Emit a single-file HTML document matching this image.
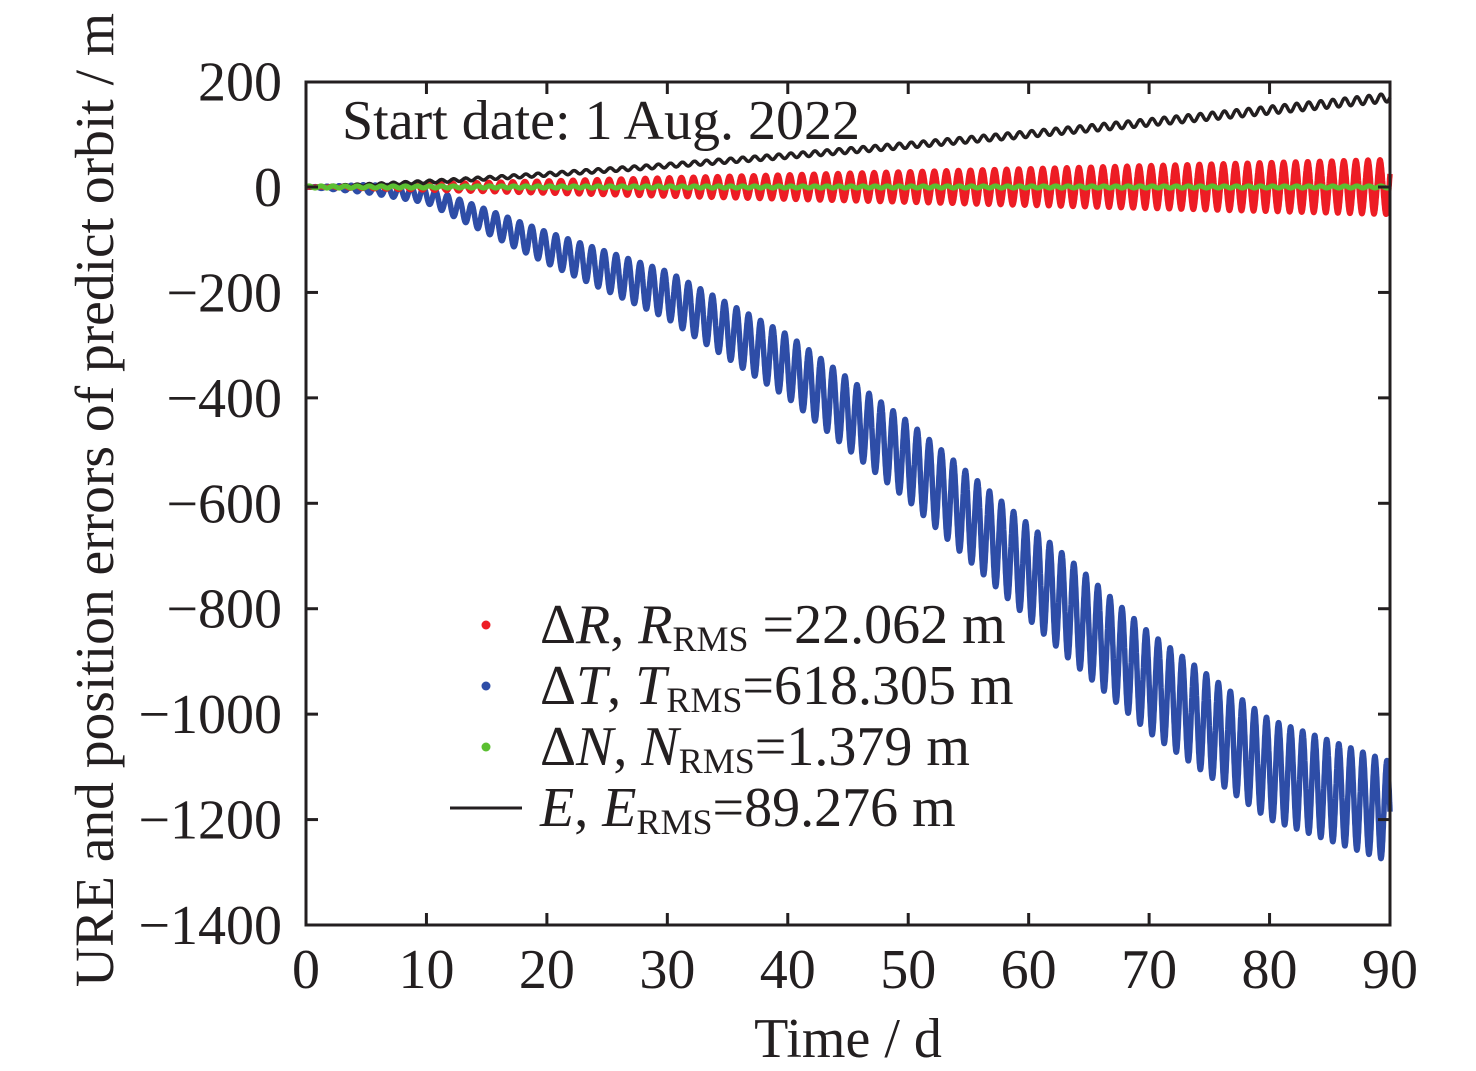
<!DOCTYPE html>
<html><head><meta charset="utf-8"><style>
html,body{margin:0;padding:0;background:#fff;}
svg{display:block;font-family:"Liberation Serif",serif;}
</style></head><body>
<svg id="s" width="1476" height="1071" viewBox="0 0 1476 1071" xmlns="http://www.w3.org/2000/svg">
<g id="series" fill="none" stroke-linejoin="round"></g>
<rect x="306" y="82" width="1084" height="843" fill="none" stroke="#231f20" stroke-width="3"/>
<g id="ticks" stroke="#231f20" stroke-width="3"></g>
<g font-size="56" fill="#231f20" id="labels"></g>
<text x="342" y="139" font-size="56" fill="#231f20">Start date: 1 Aug. 2022</text>
<text x="848" y="1057" font-size="56" text-anchor="middle" fill="#231f20">Time / d</text>
<text transform="translate(113,500) rotate(-90)" font-size="55.5" text-anchor="middle" fill="#231f20">URE and position errors of predict orbit / m</text>
<g font-size="56" fill="#231f20">
<circle cx="486" cy="625" r="4.5" fill="#ed1c24"/>
<circle cx="486" cy="686" r="4.5" fill="#2e4da7"/>
<circle cx="486" cy="747" r="4.5" fill="#5bbf31"/>
<line x1="450" y1="808" x2="522" y2="808" stroke="#231f20" stroke-width="3"/>
<text x="540" y="643">Δ<tspan font-style="italic">R</tspan>, <tspan font-style="italic">R</tspan><tspan font-size="36" dy="8">RMS</tspan><tspan dy="-8"> =22.062 m</tspan></text>
<text x="540" y="704">Δ<tspan font-style="italic">T</tspan>, <tspan font-style="italic">T</tspan><tspan font-size="36" dy="8">RMS</tspan><tspan dy="-8">=618.305 m</tspan></text>
<text x="540" y="765">Δ<tspan font-style="italic">N</tspan>, <tspan font-style="italic">N</tspan><tspan font-size="36" dy="8">RMS</tspan><tspan dy="-8">=1.379 m</tspan></text>
<text x="540" y="826"><tspan font-style="italic">E</tspan>, <tspan font-style="italic">E</tspan><tspan font-size="36" dy="8">RMS</tspan><tspan dy="-8">=89.276 m</tspan></text>
</g>
</svg>
<script>
var X=function(t){return 306+t*1084/90;};
var Y=function(v){return 187-v*105.43/200;};
var ns="http://www.w3.org/2000/svg";
function el(p,n,a){var e=document.createElementNS(ns,n);for(var k in a)e.setAttribute(k,a[k]);p.appendChild(e);return e;}
var tk=document.getElementById('ticks'),lb=document.getElementById('labels');
for(var t=0;t<=90;t+=10){var x=X(t);
 if(t>0&&t<90){el(tk,'line',{x1:x,y1:925,x2:x,y2:913});el(tk,'line',{x1:x,y1:82,x2:x,y2:94});}
 var tx=el(lb,'text',{x:x,y:988,'text-anchor':'middle'});tx.textContent=t;}
for(var v=200;v>=-1400;v-=200){var y=Y(v);
 if(v<200&&v>-1400){el(tk,'line',{x1:306,y1:y,x2:318,y2:y});el(tk,'line',{x1:1390,y1:y,x2:1378,y2:y});}
 var tx=el(lb,'text',{x:282,y:y+19,'text-anchor':'end'});tx.textContent=(v<0?'\u2212'+(-v):v);}
function interp(pts,t){for(var i=0;i<pts.length-1;i++){if(t<=pts[i+1][0]){var a=pts[i],b=pts[i+1],f=(t-a[0])/(b[0]-a[0]);return a[1]+f*(b[1]-a[1]);}}return pts[pts.length-1][1];}
var bc=[[0,0],[5,-3],[10,-15],[20,-115],[30,-205],[40,-340],[50,-520],[60,-730],[70,-940],[80,-1105],[90,-1185]];
function path(f){var d='';for(var i=0;i<=9000;i++){var t=i/100;d+=(i?'L':'M')+X(t).toFixed(1)+' '+Y(f(t)).toFixed(1);}return d;}
var w=2*Math.PI;
var g=document.getElementById('series');
el(g,'path',{d:path(function(t){return interp(bc,t)-Math.min(95,t*1.5)*Math.sin(w*t);}),stroke:'#2e4da7','stroke-width':5.5});
el(g,'path',{d:path(function(t){return 52*t/90*Math.sin(w*t+0.5);}),stroke:'#ed1c24','stroke-width':5.5});
el(g,'path',{d:path(function(t){var c=170*Math.pow(t/90,1.3);return c+(2+6*t/90)*Math.sin(w*t);}),stroke:'#231f20','stroke-width':3.5});
el(g,'path',{d:path(function(t){return 2*Math.sin(w*t);}),stroke:'#5bbf31','stroke-width':5});
</script>
</body></html>
